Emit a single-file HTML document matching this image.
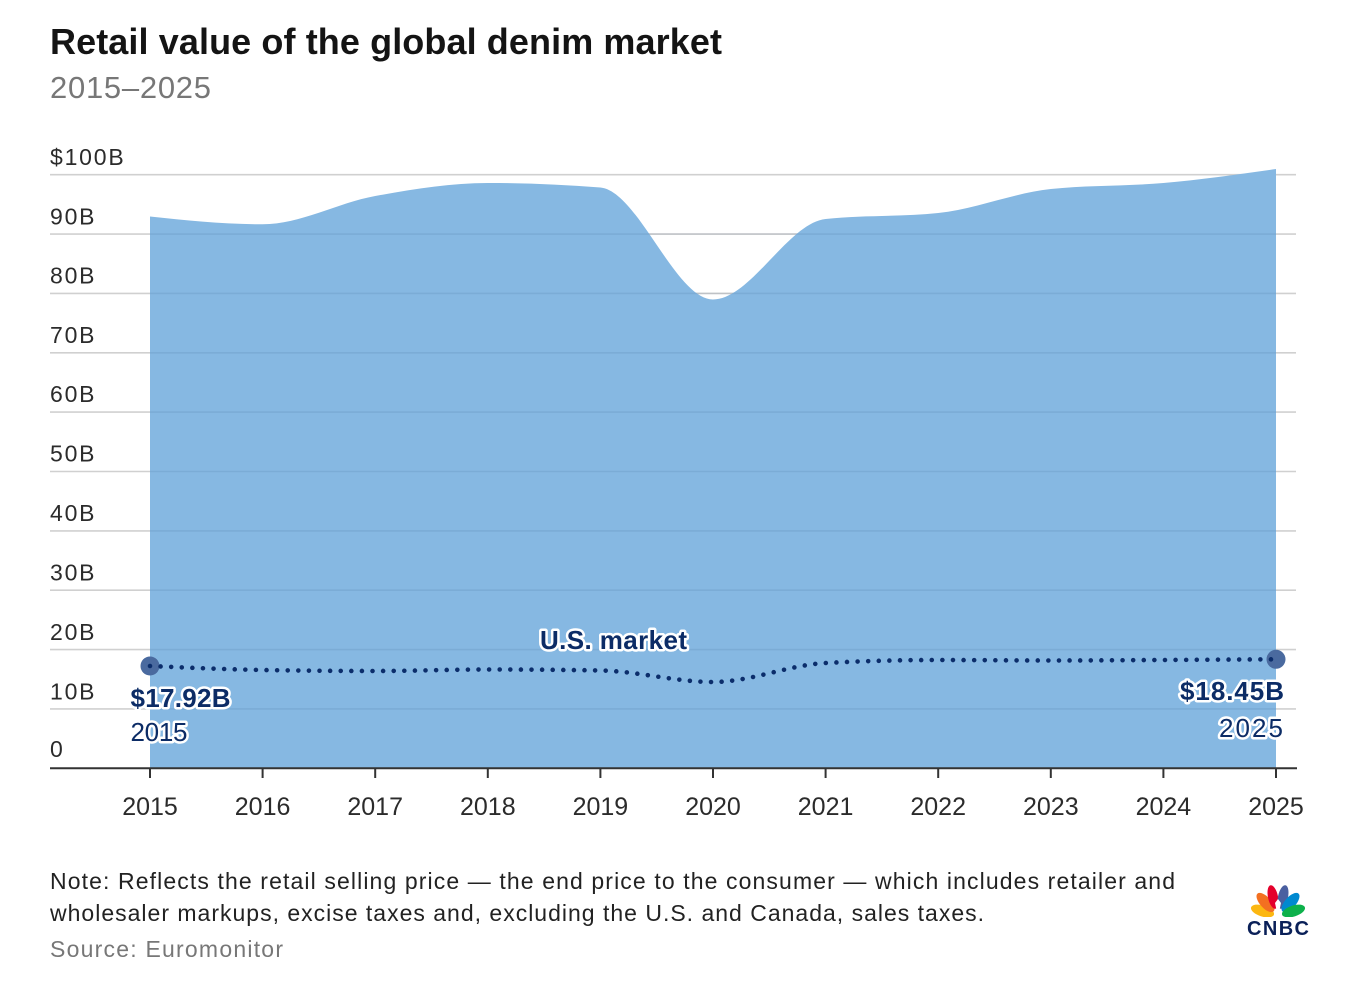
<!DOCTYPE html>
<html>
<head>
<meta charset="utf-8">
<style>
  html,body{margin:0;padding:0;background:#fff;}
  svg{display:block;}
  text{font-family:"Liberation Sans",Arial,sans-serif;}
</style>
</head>
<body>
<svg width="1348" height="994" viewBox="0 0 1348 994" xmlns="http://www.w3.org/2000/svg">
  <rect width="1348" height="994" fill="#fff"/>

  <!-- Title -->
  <text x="50" y="54" font-size="36" font-weight="bold" fill="#141414" textLength="672" lengthAdjust="spacing">Retail value of the global denim market</text>
  <text x="50" y="98" font-size="31" fill="#777" textLength="161" lengthAdjust="spacing">2015–2025</text>

  <!-- gridlines under area -->
  <g stroke="#d0d0d0" stroke-width="1.6">
    <line x1="50" x2="1296" y1="174.7" y2="174.7"/>
    <line x1="50" x2="1296" y1="234.1" y2="234.1"/>
    <line x1="50" x2="1296" y1="293.4" y2="293.4"/>
    <line x1="50" x2="1296" y1="352.8" y2="352.8"/>
    <line x1="50" x2="1296" y1="412.1" y2="412.1"/>
    <line x1="50" x2="1296" y1="471.5" y2="471.5"/>
    <line x1="50" x2="1296" y1="530.9" y2="530.9"/>
    <line x1="50" x2="1296" y1="590.2" y2="590.2"/>
    <line x1="50" x2="1296" y1="649.6" y2="649.6"/>
    <line x1="50" x2="1296" y1="708.9" y2="708.9"/>
  </g>

  <!-- Area -->
  <path fill="#86b8e2" d="M150,768 L150,216.5 C187.53,220.5 225.07,224.3 262.6,224.3 C300.13,224.3 337.67,202.83 375.2,196 C412.73,189.17 450.27,183 487.8,183 C525.33,183 562.87,184.67 600.4,187.5 C637.93,191 675.47,299.5 713,299.5 C750.53,299.5 788.07,223 825.6,219 C863.13,215 900.67,217 938.2,213 C975.73,209 1013.27,193 1050.8,189 C1088.33,185 1125.87,186.33 1163.4,183 C1200.93,179.67 1238.47,174.33 1276,169 L1276,768 Z"/>

  <!-- gridlines over area (subtle) -->
  <g stroke="rgba(20,60,100,0.09)" stroke-width="1.6">
    <line x1="150" x2="1276" y1="234.1" y2="234.1"/>
    <line x1="150" x2="1276" y1="293.4" y2="293.4"/>
    <line x1="150" x2="1276" y1="352.8" y2="352.8"/>
    <line x1="150" x2="1276" y1="412.1" y2="412.1"/>
    <line x1="150" x2="1276" y1="471.5" y2="471.5"/>
    <line x1="150" x2="1276" y1="530.9" y2="530.9"/>
    <line x1="150" x2="1276" y1="590.2" y2="590.2"/>
    <line x1="150" x2="1276" y1="649.6" y2="649.6"/>
    <line x1="150" x2="1276" y1="708.9" y2="708.9"/>
  </g>

  <!-- Y labels -->
  <g font-size="23" fill="#2b2b2b" letter-spacing="1.8">
    <text x="50" y="165">$100B</text>
    <text x="50" y="224.5">90B</text>
    <text x="50" y="283.5">80B</text>
    <text x="50" y="343">70B</text>
    <text x="50" y="402">60B</text>
    <text x="50" y="461.5">50B</text>
    <text x="50" y="521">40B</text>
    <text x="50" y="580.5">30B</text>
    <text x="50" y="640">20B</text>
    <text x="50" y="699.5">10B</text>
    <text x="50" y="757">0</text>
  </g>

  <!-- Axis -->
  <line x1="50" x2="1297" y1="768.3" y2="768.3" stroke="#333" stroke-width="2"/>
  <g stroke="#333" stroke-width="2">
    <line x1="150" x2="150" y1="768" y2="778"/>
    <line x1="262.6" x2="262.6" y1="768" y2="778"/>
    <line x1="375.2" x2="375.2" y1="768" y2="778"/>
    <line x1="487.8" x2="487.8" y1="768" y2="778"/>
    <line x1="600.4" x2="600.4" y1="768" y2="778"/>
    <line x1="713" x2="713" y1="768" y2="778"/>
    <line x1="825.6" x2="825.6" y1="768" y2="778"/>
    <line x1="938.2" x2="938.2" y1="768" y2="778"/>
    <line x1="1050.8" x2="1050.8" y1="768" y2="778"/>
    <line x1="1163.4" x2="1163.4" y1="768" y2="778"/>
    <line x1="1276" x2="1276" y1="768" y2="778"/>
  </g>

  <!-- X labels -->
  <g font-size="25" fill="#2b2b2b" text-anchor="middle">
    <text x="150" y="815">2015</text>
    <text x="262.6" y="815">2016</text>
    <text x="375.2" y="815">2017</text>
    <text x="487.8" y="815">2018</text>
    <text x="600.4" y="815">2019</text>
    <text x="713" y="815">2020</text>
    <text x="825.6" y="815">2021</text>
    <text x="938.2" y="815">2022</text>
    <text x="1050.8" y="815">2023</text>
    <text x="1163.4" y="815">2024</text>
    <text x="1276" y="815">2025</text>
  </g>

  <!-- US markers -->
  <circle cx="150" cy="666" r="9.5" fill="#4a6a9f"/>
  <circle cx="1276" cy="659.3" r="9.5" fill="#4a6a9f"/>

  <!-- US dotted line -->
  <path fill="none" stroke="#0b2d6b" stroke-width="4.6" stroke-linecap="round" stroke-dasharray="0 10.6"
    d="M150,666 C187.53,667.67 225.07,669.33 262.6,670 C300.13,670.67 337.67,671 375.2,671 C412.73,671 450.27,669.5 487.8,669.5 C525.33,669.5 562.87,669.83 600.4,670.5 C637.93,671.17 675.47,682 713,682 C750.53,682 788.07,665 825.6,663 C863.13,661 900.67,660 938.2,660 C975.73,660 1013.27,660.5 1050.8,660.5 C1088.33,660.5 1125.87,660.2 1163.4,660 C1200.93,659.8 1238.47,659.55 1276,659.3"/>

  <!-- Annotations with white halo -->
  <g fill="#0c2c66" stroke="#fff" stroke-width="5" stroke-linejoin="round" paint-order="stroke">
    <text x="540" y="649" font-size="26" font-weight="bold" textLength="147" lengthAdjust="spacing">U.S. market</text>
    <text x="130.5" y="707" font-size="26" font-weight="bold" textLength="100" lengthAdjust="spacing">$17.92B</text>
    <text x="130.5" y="741" font-size="26" textLength="57" lengthAdjust="spacing">2015</text>
    <text x="1180" y="700" font-size="26" font-weight="bold" textLength="104" lengthAdjust="spacing">$18.45B</text>
    <text x="1219" y="737" font-size="26" textLength="64" lengthAdjust="spacing">2025</text>
  </g>

  <!-- Notes -->
  <text x="50" y="889" font-size="23" fill="#222" textLength="1125" lengthAdjust="spacing">Note: Reflects the retail selling price — the end price to the consumer — which includes retailer and</text>
  <text x="50" y="921" font-size="23" fill="#222" textLength="934" lengthAdjust="spacing">wholesaler markups, excise taxes and, excluding the U.S. and Canada, sales taxes.</text>
  <text x="50" y="957" font-size="23" fill="#777" textLength="233" lengthAdjust="spacing">Source: Euromonitor</text>

  <!-- CNBC logo -->
  <g>
    <ellipse cx="1262.5" cy="911" rx="5.5" ry="12" fill="#fcb711" transform="rotate(-72 1262.5 911)"/>
    <ellipse cx="1265.5" cy="902.5" rx="5.5" ry="12" fill="#f37021" transform="rotate(-42 1265.5 902.5)"/>
    <ellipse cx="1273" cy="897" rx="5" ry="12" fill="#e4002b" transform="rotate(-12 1273 897)"/>
    <ellipse cx="1283" cy="897" rx="5" ry="12" fill="#4a5fa0" transform="rotate(12 1283 897)"/>
    <ellipse cx="1290.5" cy="902.5" rx="5.5" ry="12" fill="#0089d0" transform="rotate(42 1290.5 902.5)"/>
    <ellipse cx="1293.5" cy="911" rx="5.5" ry="12" fill="#0db14b" transform="rotate(72 1293.5 911)"/>
    <rect x="1248" y="917" width="62" height="3" fill="#fff"/>
    <path d="M1278,917 L1275,903 L1278,899 L1281,903 Z" fill="#fff"/>
    <text x="1247" y="935" font-size="20" font-weight="bold" fill="#0a2058" textLength="62" lengthAdjust="spacing">CNBC</text>
  </g>
</svg>
</body>
</html>
